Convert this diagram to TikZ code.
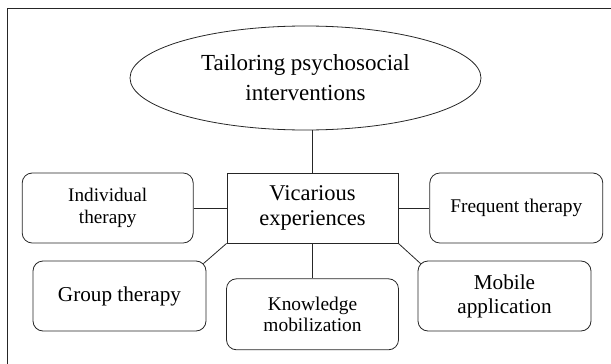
\documentclass[tikz,border=0pt]{standalone}
\usepackage{fontspec}
\setmainfont{Liberation Serif}
\usetikzlibrary{positioning,shapes.geometric,calc}

\begin{document}
\begin{tikzpicture}[
    x=1pt, y=-1pt,
    topic/.style={draw=black!85, line width=0.8pt, ellipse, minimum width=351pt, minimum height=104pt, inner sep=0pt, align=center, font=\fontsize{23}{30}\selectfont},
    hub/.style={draw=black!85, line width=0.8pt, minimum width=171pt, minimum height=70pt, inner sep=0pt, align=center, font=\fontsize{22.5}{25}\selectfont},
    mode/.style={draw=black!85, line width=0.8pt, rounded corners=10pt, minimum width=173pt, minimum height=70pt, inner sep=0pt, align=center},
    link/.style={black!85, line width=0.8pt}
]

\path[use as bounding box, clip] (0,0) rectangle (611,364);
\draw[black!85, line width=0.9pt] (7,8) rectangle (620,375);

\node[topic] (tailor) at (305.5,78) {Tailoring psychosocial\\interventions};
\node[hub] (vicar) at (312.5,208) {Vicarious\\experiences};
\node[mode, minimum width=171pt, left=33pt of vicar, font=\fontsize{19.2}{21.5}\selectfont] (indiv) {Individual\\therapy};
\node[mode, right=31pt of vicar, font=\fontsize{19.4}{21}\selectfont] (freq) {Frequent therapy};
\node[mode, minimum width=172pt, minimum height=71pt, below=35pt of vicar, font=\fontsize{19.4}{21.7}\selectfont] (know) {Knowledge\\mobilization};
\node[mode, font=\fontsize{21.2}{24}\selectfont] (group) at (119.5,296) {Group therapy};
\node[mode, font=\fontsize{21.2}{24}\selectfont] (mobile) at (504.5,296) {Mobile\\application};

% Links
\draw[link] (vicar.north) -- (vicar.north |- tailor.south);
\foreach \a/\b in {indiv.east/vicar.west, vicar.east/freq.west, vicar.south/know.north} {
    \draw[link] (\a) -- (\b);
}
\draw[link] (vicar.south west) -- ($(group.north east)+(-3,3)$);
\draw[link] (vicar.south east) -- ($(mobile.north west)+(3,3)$);

\end{tikzpicture}
\end{document}
